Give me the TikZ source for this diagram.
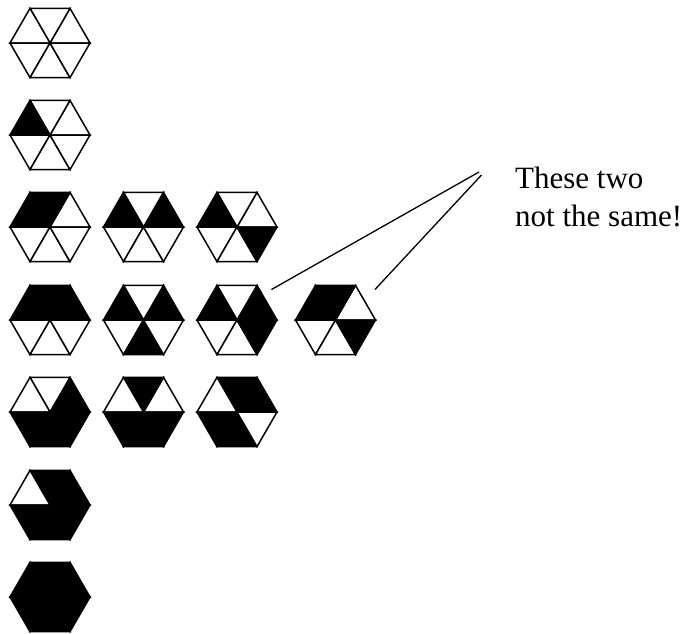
\documentclass[tikz,border=0pt]{standalone}
\usepackage{fontspec}
\setmainfont{Liberation Serif}
\newcommand\hexcell[8]{%
  \coordinate (#1) at (#2);
  \foreach \k/\c in {0/#3,1/#4,2/#5,3/#6,4/#7,5/#8}
    \draw[hexline, fill=\c] (#1) -- ([shift={(\k*60:40pt)}]#1) -- ([shift={({(\k+1)*60}:40pt)}]#1) -- cycle;
}
\begin{document}
\begin{tikzpicture}[x=1pt,y=-1pt,
  hexline/.style={line width=1.5pt, line join=miter},
  pointer/.style={line width=1.3pt},
  note/.style={anchor=north west, align=left, inner sep=0pt, font=\fontsize{31}{38}\selectfont}]
\useasboundingbox (0,0) rectangle (688,633);
% row 1
\hexcell{h11}{50,43}{white}{white}{white}{white}{white}{white}
% row 2
\hexcell{h21}{50,135}{white}{white}{black}{white}{white}{white}
% row 3
\hexcell{h31}{50,227}{white}{black}{black}{white}{white}{white}
\hexcell{h32}{143.5,227}{black}{white}{black}{white}{white}{white}
\hexcell{h33}{237,227}{white}{white}{black}{white}{white}{black}
% row 4
\hexcell{h41}{50,320}{black}{black}{black}{white}{white}{white}
\hexcell{h42}{143.5,320}{black}{white}{black}{white}{black}{white}
\hexcell{h43}{237,320}{black}{white}{black}{white}{white}{black}
\hexcell{h44}{335.5,320}{white}{black}{black}{white}{white}{black}
% row 5
\hexcell{h51}{50,412}{black}{white}{white}{black}{black}{black}
\hexcell{h52}{143.5,412}{white}{black}{white}{black}{black}{black}
\hexcell{h53}{237,412}{black}{black}{white}{black}{black}{white}
% row 6
\hexcell{h61}{50,505}{black}{black}{white}{black}{black}{black}
% row 7
\hexcell{h71}{50,597}{black}{black}{black}{black}{black}{black}
% note and pointers
\node[note] (note) at (515,167) {These two\\not the same!};
\coordinate (p1) at (271.5,289.5);
\coordinate (p2) at (375,289.5);
\coordinate (t1) at (479,172);
\coordinate (t2) at (481.5,175);
\draw[pointer] (p1) -- (t1);
\draw[pointer] (p2) -- (t2);
\end{tikzpicture}
\end{document}
